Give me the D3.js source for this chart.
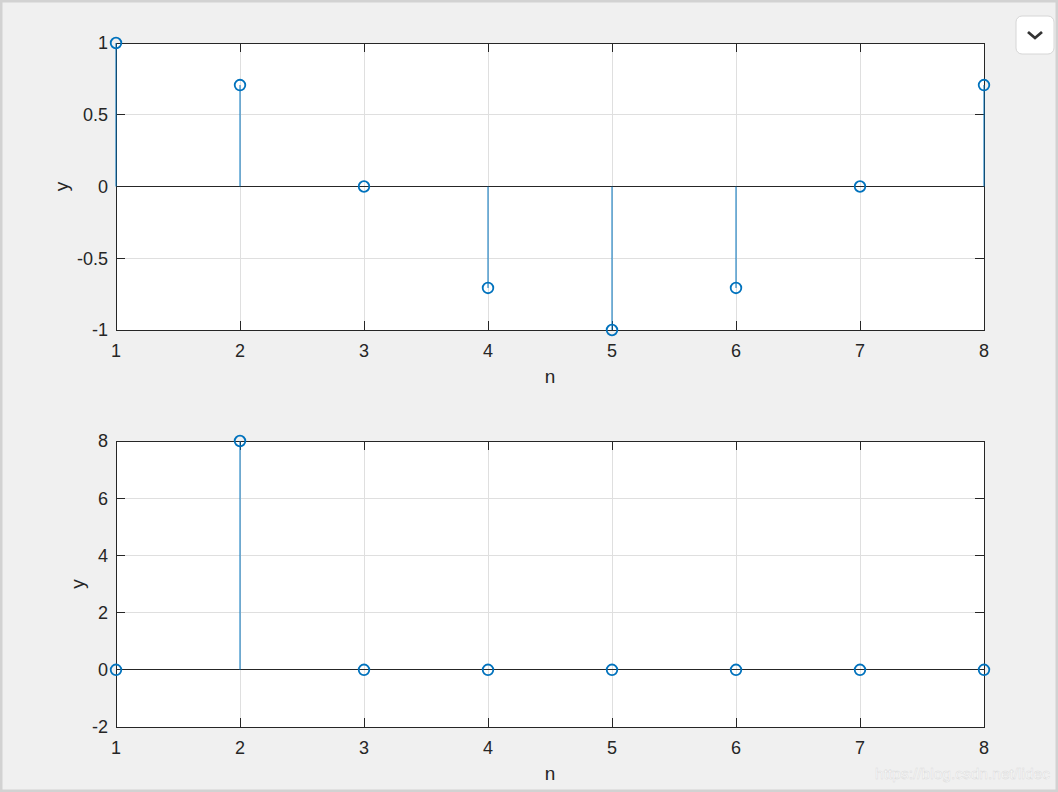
<!DOCTYPE html>
<html>
<head>
<meta charset="utf-8">
<script src="https://cdn.jsdelivr.net/npm/d3@7"></script>
<style>
  html, body { margin: 0; padding: 0; background: #f0f0f0; }
  #chart { width: 1058px; height: 792px; }
  text { font-family: "Liberation Sans", Arial, Helvetica, sans-serif; fill: #262626; }
</style>
</head>
<body>
<div id="chart"></div>
<script>
//data
var nValues = [1, 2, 3, 4, 5, 6, 7, 8];
var topValues = [1, 0.707, 0, -0.707, -1, -0.707, 0, 0.707];
var bottomValues = [0, 8, 0, 0, 0, 0, 0, 0];
var xTicks = [1, 2, 3, 4, 5, 6, 7, 8];
var topYTicks = [-1, -0.5, 0, 0.5, 1];
var bottomYTicks = [-2, 0, 2, 4, 6, 8];

//sizes
var outerW = 1058,
    outerH = 792;

var stemColor = '#0072bd',
    axisColor = '#262626',
    gridColor = '#dfdfdf';

var svg = d3.select('#chart').append('svg')
    .attr('width', outerW)
    .attr('height', outerH);

// window frame
svg.append('rect')
    .attr('x', 1).attr('y', 1)
    .attr('width', outerW - 2).attr('height', outerH - 2)
    .attr('fill', '#f0f0f0')
    .attr('stroke', '#d2d2d2')
    .attr('stroke-width', 3);

function buildStem(opts) {
    var left = 116, right = 984;
    var xScale = d3.scaleLinear().domain([1, 8]).range([left, right]);
    var yScale = d3.scaleLinear().domain(opts.yDomain).range([opts.bottom, opts.top]);

    var g = svg.append('g');

    g.append('rect')
        .attr('x', left).attr('y', opts.top)
        .attr('width', right - left).attr('height', opts.bottom - opts.top)
        .attr('fill', '#fff');

    // grid
    g.selectAll('.vgrid')
        .data(xTicks.slice(1, -1))
        .enter().append('line')
        .attr('x1', function(d) { return xScale(d); })
        .attr('x2', function(d) { return xScale(d); })
        .attr('y1', opts.top).attr('y2', opts.bottom)
        .attr('stroke', gridColor).attr('stroke-width', 1)
        .attr('shape-rendering', 'crispEdges');

    g.selectAll('.hgrid')
        .data(opts.yTicks.slice(1, -1))
        .enter().append('line')
        .attr('x1', left).attr('x2', right)
        .attr('y1', function(d) { return yScale(d); })
        .attr('y2', function(d) { return yScale(d); })
        .attr('stroke', gridColor).attr('stroke-width', 1)
        .attr('shape-rendering', 'crispEdges');

    // inner ticks, all four sides
    var tl = 9;
    opts.yTicks.forEach(function(t) {
        var y = yScale(t);
        g.append('line').attr('x1', left).attr('x2', left + tl).attr('y1', y).attr('y2', y)
            .attr('stroke', axisColor).attr('shape-rendering', 'crispEdges');
        g.append('line').attr('x1', right - tl).attr('x2', right).attr('y1', y).attr('y2', y)
            .attr('stroke', axisColor).attr('shape-rendering', 'crispEdges');
    });
    xTicks.forEach(function(t) {
        var x = xScale(t);
        g.append('line').attr('x1', x).attr('x2', x).attr('y1', opts.bottom).attr('y2', opts.bottom - tl)
            .attr('stroke', axisColor).attr('shape-rendering', 'crispEdges');
        g.append('line').attr('x1', x).attr('x2', x).attr('y1', opts.top).attr('y2', opts.top + tl)
            .attr('stroke', axisColor).attr('shape-rendering', 'crispEdges');
    });

    // box
    g.append('rect')
        .attr('x', left).attr('y', opts.top)
        .attr('width', right - left).attr('height', opts.bottom - opts.top)
        .attr('fill', 'none')
        .attr('stroke', axisColor).attr('stroke-width', 1)
        .attr('shape-rendering', 'crispEdges');

    // baseline
    g.append('line')
        .attr('x1', left).attr('x2', right)
        .attr('y1', yScale(0)).attr('y2', yScale(0))
        .attr('stroke', axisColor).attr('stroke-width', 1)
        .attr('shape-rendering', 'crispEdges');

    // tick labels
    g.selectAll('.ylab')
        .data(opts.yTicks)
        .enter().append('text')
        .attr('x', left - 8)
        .attr('y', function(d) { return yScale(d); })
        .attr('dy', '0.36em')
        .attr('text-anchor', 'end')
        .attr('font-size', 18)
        .text(function(d) { return d; });

    g.selectAll('.xlab')
        .data(xTicks)
        .enter().append('text')
        .attr('x', function(d) { return xScale(d); })
        .attr('y', opts.bottom + 27)
        .attr('text-anchor', 'middle')
        .attr('font-size', 18)
        .text(function(d) { return d; });

    g.append('text')
        .attr('x', 550).attr('y', opts.bottom + 53)
        .attr('text-anchor', 'middle')
        .attr('font-size', 19)
        .text('n');

    g.append('text')
        .attr('transform', 'translate(' + opts.yLabelX + ',' + ((opts.top + opts.bottom) / 2) + ') rotate(-90)')
        .attr('text-anchor', 'middle')
        .attr('font-size', 19)
        .text('y');

    // stems
    g.selectAll('.stem')
        .data(opts.values)
        .enter().append('line')
        .attr('x1', function(d, i) { return xScale(nValues[i]); })
        .attr('x2', function(d, i) { return xScale(nValues[i]); })
        .attr('y1', yScale(0))
        .attr('y2', function(d) { return yScale(d); })
        .attr('stroke', stemColor).attr('stroke-width', 1);

    g.selectAll('.mark')
        .data(opts.values)
        .enter().append('circle')
        .attr('cx', function(d, i) { return xScale(nValues[i]); })
        .attr('cy', function(d) { return yScale(d); })
        .attr('r', 5.3)
        .attr('fill', 'none')
        .attr('stroke', stemColor).attr('stroke-width', 1.8);
}

buildStem({ top: 43, bottom: 330, yDomain: [-1, 1], yTicks: topYTicks, values: topValues, yLabelX: 68 });
buildStem({ top: 441, bottom: 727, yDomain: [-2, 8], yTicks: bottomYTicks, values: bottomValues, yLabelX: 84 });

// dropdown button
var btn = svg.append('g').attr('transform', 'translate(1016,16)');
btn.append('rect')
    .attr('width', 38).attr('height', 38).attr('rx', 6)
    .attr('fill', '#fff').attr('stroke', '#d6d6d6');
btn.append('path')
    .attr('d', 'M12,16 L19,22 L26,16')
    .attr('fill', 'none').attr('stroke', '#333').attr('stroke-width', 2.8);

// watermark
svg.append('text')
    .attr('x', 1050).attr('y', 779)
    .attr('text-anchor', 'end')
    .attr('font-size', 15.5)
    .style('fill', '#ffffff')
    .style('stroke', '#dadada').style('stroke-width', 0.5)
    .text('https://blog.csdn.net/lidec');
</script>
</body>
</html>
